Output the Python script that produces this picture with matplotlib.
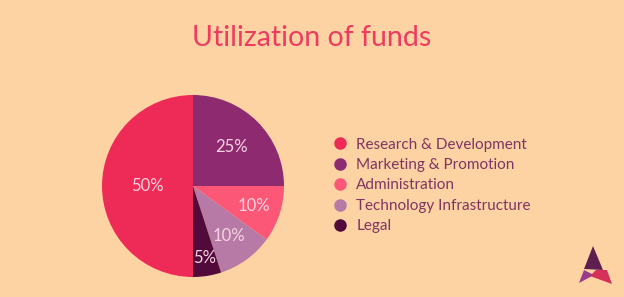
import numpy as np
import matplotlib
matplotlib.use("Agg")
import matplotlib.pyplot as plt
from matplotlib.lines import Line2D
from matplotlib.patches import Polygon

categories = ["Research & Development", "Marketing & Promotion", "Administration",
              "Technology Infrastructure", "Legal"]
shares = [50, 25, 10, 10, 5]
colors = ["#EE2B56", "#8E2B70", "#FD5777", "#B77AA6", "#520A3B"]
label_dist = [0.5, 0.6, 0.7, 0.68, 0.8]

bg = "#FDD3A3"
plt.rcParams['font.family'] = ['Lato', 'DejaVu Sans']

W, H = 624, 297
fig = plt.figure(figsize=(W / 100, H / 100), dpi=100, facecolor=bg)

# pie axes: centre (193, 186) px from top, radius 91 px
cx, cy, r = 193, 186, 91
ax = fig.add_axes([(cx - r) / W, (H - cy - r) / H, 2 * r / W, 2 * r / H])
ax.set_facecolor(bg)
wedges, _ = ax.pie(shares, colors=colors, startangle=270, counterclock=False,
                   radius=1, wedgeprops=dict(linewidth=0))
ax.set_xlim(-1, 1)
ax.set_ylim(-1, 1)
ax.set_aspect("equal")
ax.axis("off")

for w, val, d in zip(wedges, shares, label_dist):
    ang = np.deg2rad((w.theta1 + w.theta2) / 2)
    ax.text(d * np.cos(ang), d * np.sin(ang), f"{val}%", ha="center", va="center",
            color="#F7D3E2", fontsize=12)

fig.text(0.5, 1 - 38 / H, "Utilization of funds", ha="center", va="center",
         color="#EE3B5F", fontsize=20.5)

handles = [Line2D([], [], marker="o", linestyle="none", markersize=8,
                  markerfacecolor=c, markeredgecolor=c) for c in colors]
fig.legend(handles, categories, loc="upper left",
           bbox_to_anchor=(325 / W, 1 - 130 / H), frameon=False, fontsize=11,
           labelcolor="#803462", labelspacing=0.42, handletextpad=0.55,
           handlelength=1.0, borderpad=0)

# logo in the corner
logo = [
    ([(593, 246), (584, 269), (603, 270)], "#5E1E4F"),
    ([(584, 270), (579, 283), (594, 275)], "#9A3A8A"),
    ([(596, 270), (607, 270), (612, 284), (590, 276)], "#D5305A"),
]
for pts, c in logo:
    fig.patches.append(Polygon([(x / W, 1 - y / H) for x, y in pts], closed=True,
                               transform=fig.transFigure, facecolor=c, edgecolor="none"))

fig.savefig("out.png", dpi=100, facecolor=bg)
